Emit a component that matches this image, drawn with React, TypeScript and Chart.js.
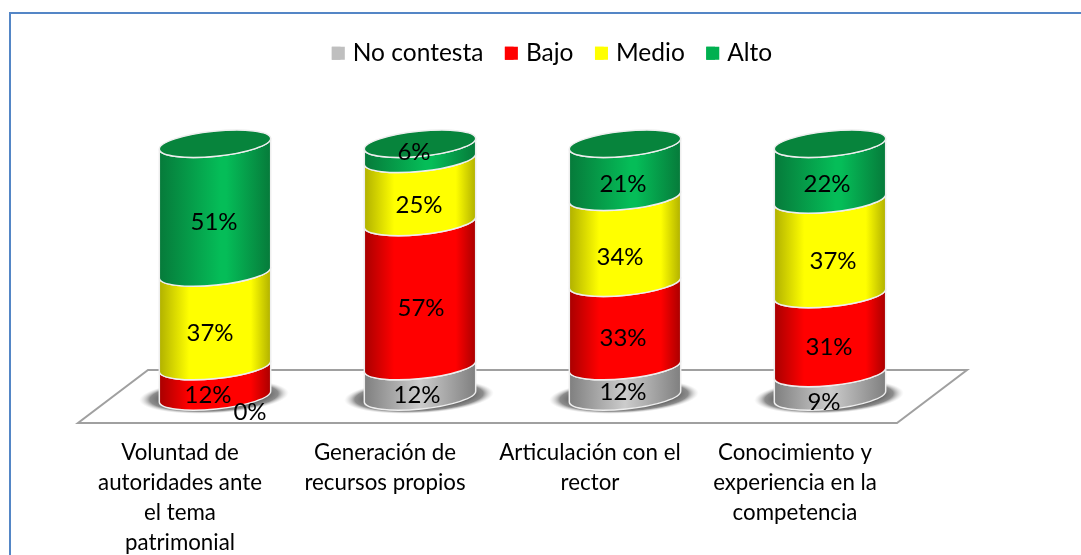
import React, { useEffect, useRef } from "react";
import { Chart, registerables } from "chart.js";

Chart.register(...registerables);

const categories = [
  ["Voluntad de", "autoridades ante", "el tema", "patrimonial"],
  ["Generación de", "recursos propios"],
  ["Articulación con el", "rector"],
  ["Conocimiento y", "experiencia en la", "competencia"],
];
const seriesNames = ["No contesta", "Bajo", "Medio", "Alto"];
const noContesta = [0, 12, 12, 9.3];
const bajo = [12, 57, 33, 31.2];
const medio = [37, 25, 34, 37.4];
const alto = [51, 6, 21, 22.1];

const legendColors = ["#bfbfbf", "#ff0000", "#ffff00", "#00b050"];
const edgeColors = ["#7f7f7f", "#a80000", "#b0b000", "#067a3a"];
const midColors = ["#cccccc", "#ff0000", "#ffff00", "#05bd58"];
const capColors = ["#a6a6a6", "#c00000", "#c8c800", "#07843c"];
const rampIn = [0.5, 0.27, 0.27, 0.55];
const rampOut = [0.5, 0.82, 0.82, 0.6];
const FONT = "Lato, Carlito, sans-serif";

const TILT = (-5.7 * Math.PI) / 180;
const RY = 12.5;
const LABEL_DROP = 14;
// nudges of individual value labels [dataset][category] = [dx, dy]
const nudges: number[][][] = [
  [[35, 2], [-3, 0], [-2, -3], [-6, 4]],
  [[-7, 0], [1, 0], [-2, 0], [-1, 0]],
  [[-5, 0], [-1, 1], [-5, 3], [3, 0]],
  [[-1, 0], [-6, -13], [-2, 0], [-3, -1]],
];

function segmentPath(ctx: CanvasRenderingContext2D, cx: number, top: number, bottom: number, rx: number) {
  ctx.beginPath();
  ctx.ellipse(cx, bottom, rx, RY, TILT, Math.PI, 0, true);
  ctx.ellipse(cx, top, rx, RY, TILT, 0, Math.PI, false);
  ctx.closePath();
}

const framePlugin = {
  id: "frame",
  beforeDraw(chart: any) {
    const ctx = chart.ctx as CanvasRenderingContext2D;
    ctx.save();
    ctx.fillStyle = "#ffffff";
    ctx.fillRect(0, 0, chart.width, chart.height);
    ctx.strokeStyle = "#5486c6";
    ctx.lineWidth = 2;
    ctx.beginPath();
    ctx.moveTo(10, chart.height);
    ctx.lineTo(10, 13);
    ctx.lineTo(chart.width, 13);
    ctx.stroke();
    ctx.restore();
  },
  afterDraw(chart: any) {
    const ctx = chart.ctx as CanvasRenderingContext2D;
    const boxes = chart.legend?.legendHitBoxes ?? [];
    ctx.save();
    boxes.forEach((b: any, i: number) => {
      ctx.fillStyle = legendColors[i];
      ctx.fillRect(b.left, b.top + b.height / 2 - 6.5, 13, 13);
    });
    ctx.restore();
  },
};

const cylinderPlugin = {
  id: "cylinders",
  beforeDatasetsDraw(chart: any) {
    const ctx = chart.ctx as CanvasRenderingContext2D;
    const yz = chart.scales.y.getPixelForValue(0);

    // floor
    ctx.save();
    ctx.beginPath();
    ctx.moveTo(148, 370);
    ctx.lineTo(967, 370);
    ctx.lineTo(897, 423);
    ctx.lineTo(78, 423);
    ctx.closePath();
    ctx.fillStyle = "#ffffff";
    ctx.fill();
    ctx.strokeStyle = "#a0a0a0";
    ctx.lineWidth = 2;
    ctx.stroke();

    const first = chart.getDatasetMeta(0).data;
    first.forEach((el: any) => {
      ctx.save();
      ctx.translate(el.x - 1, yz);
      ctx.rotate(TILT / 2);
      ctx.scale(1, 17 / 75);
      const g = ctx.createRadialGradient(0, 0, 48, 0, 0, 75);
      g.addColorStop(0, "rgba(85,85,85,1)");
      g.addColorStop(0.6, "rgba(120,120,120,0.85)");
      g.addColorStop(1, "rgba(210,210,210,0)");
      ctx.fillStyle = g;
      ctx.beginPath();
      ctx.arc(0, 0, 75, 0, Math.PI * 2);
      ctx.fill();
      ctx.restore();
    });

    // cylinders
    chart.data.datasets.forEach((ds: any, di: number) => {
      const meta = chart.getDatasetMeta(di);
      meta.data.forEach((el: any) => {
        if (el.base - el.y < 0.5) return;
        const rx = el.width / 2;
        const g = ctx.createLinearGradient(el.x - rx, 0, el.x + rx, 0);
        g.addColorStop(0, edgeColors[di]);
        g.addColorStop(rampIn[di], midColors[di]);
        g.addColorStop(rampOut[di], midColors[di]);
        g.addColorStop(1, edgeColors[di]);
        segmentPath(ctx, el.x, el.y, el.base, rx);
        ctx.fillStyle = g;
        ctx.fill();
        ctx.strokeStyle = "#eeeeee";
        ctx.lineWidth = 1.5;
        ctx.stroke();
      });
    });

    // caps
    const n = chart.data.labels.length;
    for (let i = 0; i < n; i++) {
      for (let di = chart.data.datasets.length - 1; di >= 0; di--) {
        const el = chart.getDatasetMeta(di).data[i];
        if (el.base - el.y < 0.5) continue;
        const rx = el.width / 2;
        ctx.beginPath();
        ctx.ellipse(el.x, el.y, rx, RY, TILT, 0, Math.PI * 2);
        ctx.fillStyle = capColors[di];
        ctx.fill();
        ctx.strokeStyle = "#eeeeee";
        ctx.lineWidth = 1.5;
        ctx.stroke();
        break;
      }
    }

    // value labels
    ctx.fillStyle = "#000000";
    ctx.font = `24px ${FONT}`;
    ctx.textAlign = "center";
    ctx.textBaseline = "middle";
    chart.data.datasets.forEach((ds: any, di: number) => {
      chart.getDatasetMeta(di).data.forEach((el: any, i: number) => {
        const [dx, dy] = nudges[di][i];
        const text = `${Math.round(ds.data[i])}%`;
        ctx.fillText(text, el.x + dx, (el.y + el.base) / 2 + LABEL_DROP + dy);
      });
    });
    ctx.restore();
    return false;
  },
};

export default function App() {
  const ref = useRef<HTMLCanvasElement>(null);
  useEffect(() => {
    document.body.style.margin = "0";
    const series = [noContesta, bajo, medio, alto];
    const chart = new Chart(ref.current!, {
      type: "bar",
      data: {
        labels: categories as any,
        datasets: seriesNames.map((name, i) => ({
          label: name,
          data: series[i],
          backgroundColor: legendColors[i],
          barPercentage: 1,
          categoryPercentage: 0.546,
        })),
      },
      plugins: [framePlugin, cylinderPlugin] as any,
      options: {
        animation: false,
        responsive: false,
        layout: { padding: { left: 23, right: 0, top: 19.5, bottom: 0 } },
        plugins: {
          tooltip: { enabled: false },
          legend: {
            position: "top",
            align: "center",
            labels: {
              boxWidth: 8.75,
              boxHeight: 13,
              padding: 21.5,
              color: "#000000",
              font: { family: FONT, size: 24.5 },
            },
          },
        },
        scales: {
          x: {
            stacked: true,
            grid: { display: false },
            border: { display: false },
            afterFit(s: any) {
              s.height = 158.5;
            },
            ticks: {
              color: "#000000",
              labelOffset: -35,
              padding: 33,
              maxRotation: 0,
              autoSkip: false,
              font: { family: FONT, size: 22.3, lineHeight: 1.345 },
            },
          },
          y: {
            stacked: true,
            min: 0,
            max: 127,
            grid: { display: false },
            border: { display: false },
            ticks: { display: false },
            afterFit(s: any) {
              s.width = 89.5;
            },
          },
          side: {
            position: "right",
            min: 0,
            max: 1,
            grid: { display: false },
            border: { display: false },
            ticks: { display: false },
            afterFit(s: any) {
              s.width = 148.5;
            },
          },
        },
      } as any,
    });
    return () => chart.destroy();
  }, []);
  return <canvas ref={ref} width={1081} height={555} style={{ display: "block" }} />;
}
